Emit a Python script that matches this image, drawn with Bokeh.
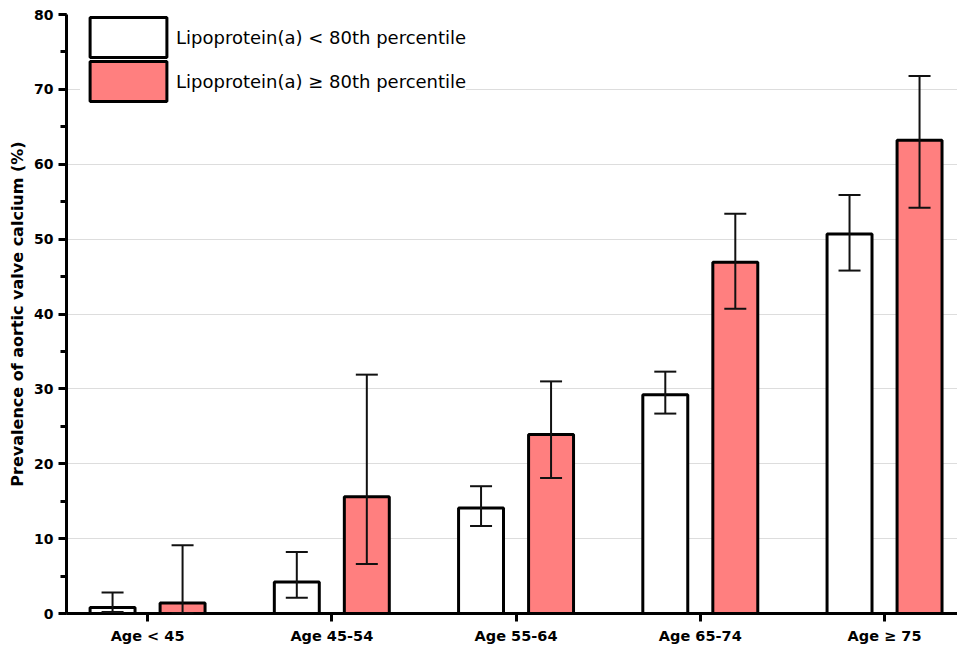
from bokeh.plotting import figure
from bokeh.models import (ColumnDataSource, Range1d, FixedTicker, SingleIntervalTicker,
                          Whisker, TeeHead, Legend, LegendItem)
from bokeh.embed import file_html
from bokeh.resources import INLINE

categories = ["Age < 45", "Age 45-54", "Age 55-64", "Age 65-74", "Age \u2265 75"]
low_vals = [0.8, 4.2, 14.1, 29.2, 50.7]
low_upper = [2.8, 8.2, 17.0, 32.3, 55.9]
low_lower = [0.2, 2.1, 11.7, 26.7, 45.8]
high_vals = [1.4, 15.6, 23.9, 46.9, 63.2]
high_upper = [9.1, 31.9, 31.0, 53.4, 71.8]
high_lower = [0.0, 6.6, 18.1, 40.7, 54.2]
series_names = ["Lipoprotein(a) < 80th percentile", "Lipoprotein(a) \u2265 80th percentile"]
grid_values = [10, 20, 30, 40, 50, 60, 70]

idx = list(range(len(categories)))
offset = 0.19
bar_w = 0.244

src_low = ColumnDataSource(dict(x=[i - offset for i in idx], top=low_vals,
                                upper=low_upper, lower=low_lower))
src_high = ColumnDataSource(dict(x=[i + offset for i in idx], top=high_vals,
                                 upper=high_upper, lower=high_lower))

FONT = "DejaVu Sans"

p = figure(width=957, height=647, output_backend="svg", toolbar_location=None,
           x_range=Range1d(-0.44, 4.396), y_range=Range1d(0, 80),
           min_border_left=66, min_border_top=14, min_border_bottom=34, min_border_right=0)
p.outline_line_color = None
p.background_fill_color = "white"

r_low = p.vbar(x="x", top="top", width=bar_w, bottom=0, source=src_low,
               fill_color="white", line_color="black", line_width=3)
r_high = p.vbar(x="x", top="top", width=bar_w, bottom=0, source=src_high,
                fill_color="#FF7F7F", line_color="black", line_width=3)

for s in (src_low, src_high):
    w = Whisker(source=s, base="x", upper="upper", lower="lower",
                line_color="#111111", line_width=2, level="overlay",
                upper_head=TeeHead(size=22, line_width=2, line_color="#111111"),
                lower_head=TeeHead(size=22, line_width=2, line_color="#111111"))
    p.add_layout(w)

# x axis
p.xaxis.ticker = FixedTicker(ticks=idx)
p.xaxis.major_label_overrides = {i: c for i, c in zip(idx, categories)}
p.xaxis.axis_line_width = 3
p.xaxis.major_tick_line_width = 3
p.xaxis.major_tick_out = 8
p.xaxis.major_tick_in = 0
p.xaxis.minor_tick_line_color = None
p.xaxis.major_label_text_font = FONT
p.xaxis.major_label_text_font_style = "bold"
p.xaxis.major_label_text_font_size = "14.5px"
p.xaxis.major_label_text_color = "black"
p.xaxis.major_label_standoff = 6

# y axis
p.yaxis.ticker = SingleIntervalTicker(interval=10, num_minor_ticks=2)
p.yaxis.axis_line_width = 3
p.yaxis.major_tick_line_width = 3
p.yaxis.major_tick_out = 8
p.yaxis.major_tick_in = 0
p.yaxis.minor_tick_line_width = 3
p.yaxis.minor_tick_out = 6
p.yaxis.minor_tick_in = 0
p.yaxis.major_label_text_font = FONT
p.yaxis.major_label_text_font_style = "bold"
p.yaxis.major_label_text_font_size = "14px"
p.yaxis.major_label_text_color = "black"
p.yaxis.major_label_standoff = 5
p.yaxis.axis_label = "Prevalence of aortic valve calcium (%)"
p.yaxis.axis_label_text_font = FONT
p.yaxis.axis_label_text_font_style = "bold"
p.yaxis.axis_label_text_font_size = "16px"
p.yaxis.axis_label_text_color = "black"
p.yaxis.axis_label_standoff = 4

p.xgrid.grid_line_color = None
p.ygrid.ticker = FixedTicker(ticks=grid_values)
p.ygrid.grid_line_color = "#bbbbbb"
p.ygrid.grid_line_dash = "1 1"
p.ygrid.grid_line_width = 1

common = dict(orientation="vertical", glyph_width=96, glyph_height=50, spacing=0,
              padding=0, margin=0, label_standoff=-10, label_text_font=FONT,
              label_text_font_size="18px", label_text_color="black",
              border_line_color=None)
legend2 = Legend(items=[LegendItem(label=series_names[1], renderers=[r_high])],
                 location=(14, 507), background_fill_color="white",
                 background_fill_alpha=1.0, **common)
legend1 = Legend(items=[LegendItem(label=series_names[0], renderers=[r_low])],
                 location=(14, 551), background_fill_alpha=0.0, **common)
p.add_layout(legend2)
p.add_layout(legend1)

open("out.html", "w").write(file_html(p, INLINE))
